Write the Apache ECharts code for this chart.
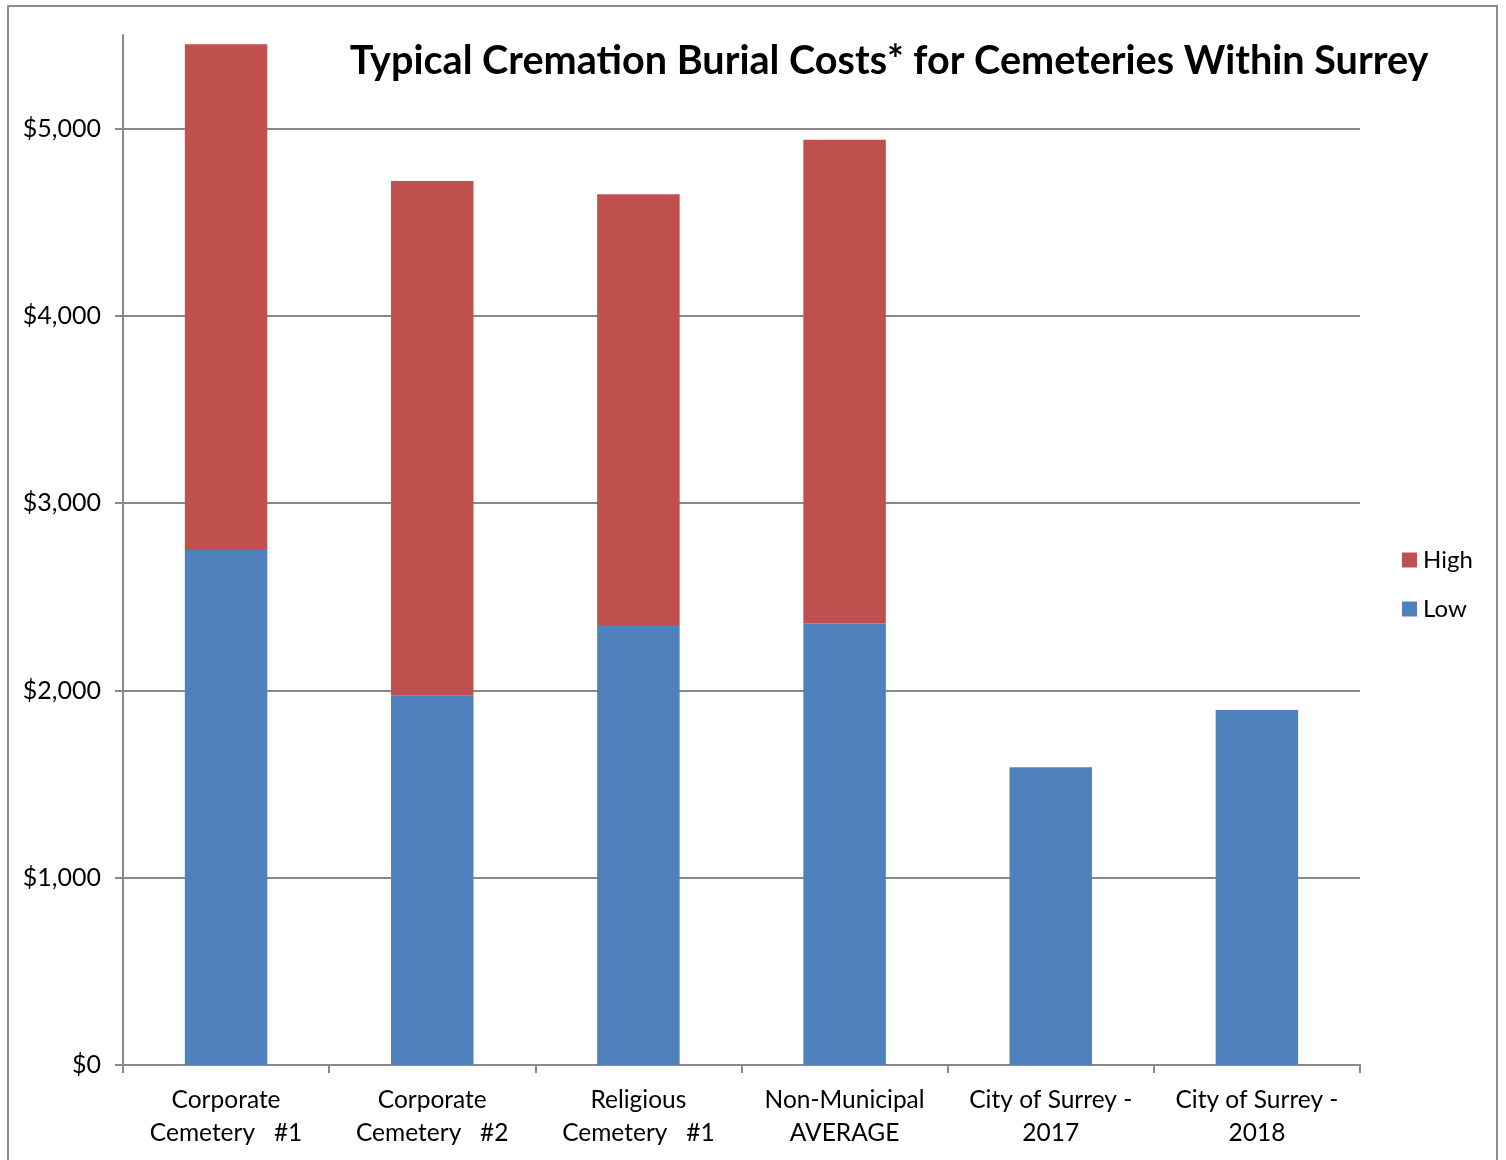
<!DOCTYPE html>
<html>
<head>
<meta charset="utf-8">
<script src="https://cdn.jsdelivr.net/npm/echarts@6/dist/echarts.min.js"></script>
<style>
  html, body { margin: 0; padding: 0; background: #fff; }
  #frame { position: absolute; left: 7px; top: 5px; width: 1491px; height: 1170px; border: 2px solid #8c8c8c; box-sizing: border-box; }
  #chart { position: absolute; left: 0; top: 0; width: 1506px; height: 1160px; }
</style>
</head>
<body>
<div id="frame"></div>
<div id="chart"></div>
<script>
const titleText = 'Typical Cremation Burial Costs* for Cemeteries Within Surrey';
const categories = [
  'Corporate\nCemetery   #1',
  'Corporate\nCemetery   #2',
  'Religious\nCemetery   #1',
  'Non-Municipal\nAVERAGE',
  'City of Surrey -\n2017',
  'City of Surrey -\n2018'
];
const lowValues = [2750, 1975, 2350, 2358, 1590, 1895];
const highValues = [2700, 2745, 2300, 2583, 0, 0];
const yTicks = [0, 1000, 2000, 3000, 4000, 5000];

const chart = echarts.init(document.getElementById('chart'), null, { renderer: 'canvas' });
const font = 'Lato, "Open Sans", sans-serif';
const axisGray = '#888888';

chart.setOption({
  animation: false,
  backgroundColor: 'transparent',
  title: {
    text: titleText,
    left: 884,
    textAlign: 'center',
    top: 36,
    textStyle: { fontFamily: font, fontSize: 39.6, fontWeight: 'bold', color: '#000' }
  },
  legend: {
    data: ['High', 'Low'],
    orient: 'vertical',
    left: 1397,
    top: 543,
    itemWidth: 15,
    itemHeight: 15,
    itemGap: 25,
    icon: 'rect',
    textStyle: { fontFamily: font, fontSize: 24, color: '#000', padding: [0, 0, 0, 1] }
  },
  grid: { left: 123, right: 146, top: 35, bottom: 95 },
  xAxis: {
    type: 'category',
    data: categories,
    axisLine: { lineStyle: { color: axisGray, width: 2 } },
    axisTick: { show: true, length: 8, lineStyle: { color: axisGray, width: 2 } },
    axisLabel: { fontFamily: font, fontSize: 24.5, color: '#000', lineHeight: 33, margin: 19, interval: 0 }
  },
  yAxis: {
    type: 'value',
    min: 0,
    max: 5500,
    interval: 1000,
    axisLine: { show: true, lineStyle: { color: axisGray, width: 2 } },
    axisTick: { show: true, length: 8, customValues: yTicks, lineStyle: { color: axisGray, width: 2 } },
    axisLabel: {
      customValues: yTicks,
      fontFamily: font, fontSize: 25, color: '#000', margin: 22,
      formatter: v => '$' + v.toLocaleString('en-US')
    },
    splitLine: { show: true, showMinLine: false, lineStyle: { color: axisGray, width: 2 } }
  },
  series: [
    {
      name: 'Low', type: 'bar', stack: 'total', data: lowValues, barWidth: '40%',
      itemStyle: { color: '#4F81BD' }
    },
    {
      name: 'High', type: 'bar', stack: 'total', data: highValues, barWidth: '40%',
      itemStyle: { color: '#C0504D' }
    }
  ]
});
</script>
</body>
</html>
